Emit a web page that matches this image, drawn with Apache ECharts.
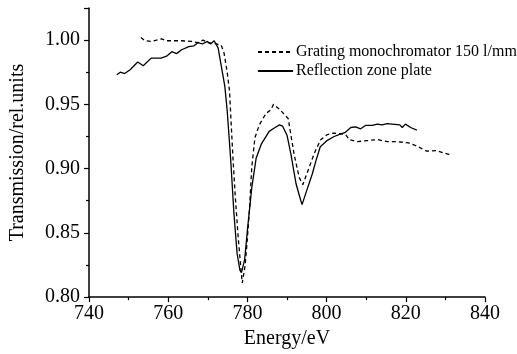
<!DOCTYPE html>
<html>
<head>
<meta charset="utf-8">
<script src="https://cdn.jsdelivr.net/npm/echarts@6/dist/echarts.min.js"></script>
<style>
  html, body { margin: 0; padding: 0; background: #fff; }
  #chart { width: 517px; height: 354px; }
</style>
</head>
<body>
<div id="chart"></div>
<script>
// 能量 (eV) 和透射率
var rzpEnergy = [747.0, 747.9, 749.0, 750.4, 752.3, 753.7, 755.7, 758.2, 759.6, 760.9, 762.1, 763.4, 765.2, 766.5, 767.5, 768.6, 769.9, 770.7, 771.6, 772.6, 773.4, 774.3, 774.9, 775.8, 776.6, 777.4, 778.1, 778.5, 779.3, 780.1, 781.1, 782.2, 783.5, 785.5, 787.0, 788.1, 788.9, 790.0, 791.0, 792.3, 793.5, 793.8, 795.2, 796.4, 797.3, 798.4, 800.2, 801.9, 803.6, 804.6, 806.1, 807.3, 808.6, 809.8, 811.5, 812.8, 814.0, 815.3, 816.6, 817.1, 818.5, 819.1, 819.9, 821.2, 822.8];
var rzpValue = [0.973, 0.975, 0.974, 0.977, 0.983, 0.980, 0.986, 0.986, 0.9875, 0.991, 0.9895, 0.9925, 0.995, 0.9956, 0.998, 0.997, 0.999, 0.997, 0.9995, 0.994, 0.980, 0.964, 0.945, 0.906, 0.865, 0.834, 0.821, 0.819, 0.829, 0.855, 0.885, 0.908, 0.919, 0.929, 0.932, 0.934, 0.933, 0.926, 0.911, 0.888, 0.875, 0.872, 0.885, 0.896, 0.906, 0.917, 0.922, 0.925, 0.927, 0.928, 0.932, 0.9325, 0.931, 0.9336, 0.9336, 0.9346, 0.934, 0.935, 0.9346, 0.936, 0.934, 0.932, 0.9346, 0.932, 0.930];

var gratingEnergy = [753.1, 754.1, 755.8, 758.3, 759.6, 761.3, 763.3, 765.9, 767.5, 768.8, 770.1, 772.2, 773.4, 774.1, 774.9, 775.5, 775.9, 776.4, 776.9, 777.6, 778.3, 778.7, 779.4, 779.9, 780.5, 781.1, 781.9, 783.0, 784.7, 785.9, 786.6, 787.8, 789.1, 790.3, 791.0, 791.8, 793.1, 794.0, 795.6, 796.9, 798.5, 800.2, 801.9, 803.6, 804.8, 805.7, 807.8, 810.3, 812.8, 815.3, 817.8, 820.7, 822.8, 825.3, 827.8, 830.8, 831.6];
var gratingValue = [1.002, 0.9995, 0.999, 1.001, 0.9995, 0.9995, 0.9995, 0.999, 0.998, 1.000, 0.998, 0.997, 0.996, 0.990, 0.975, 0.960, 0.935, 0.906, 0.880, 0.8495, 0.824, 0.811, 0.824, 0.842, 0.867, 0.901, 0.924, 0.934, 0.943, 0.9456, 0.950, 0.947, 0.943, 0.939, 0.926, 0.911, 0.893, 0.8875, 0.901, 0.912, 0.9225, 0.9265, 0.9277, 0.927, 0.9265, 0.9226, 0.921, 0.9218, 0.9226, 0.921, 0.921, 0.920, 0.9175, 0.9136, 0.914, 0.911, 0.9115];

var seriesNames = ['Grating monochromator 150 l/mm', 'Reflection zone plate'];

function pairs (xs, ys) {
  return xs.map(function (x, i) { return [x, ys[i]]; });
}

var font = '"Liberation Serif", "DejaVu Serif", serif';
var chart = echarts.init(document.getElementById('chart'));
chart.setOption({
  animation: false,
  textStyle: { fontFamily: font, color: '#000' },
  grid: { left: 87, right: 32, top: 8, bottom: 54, containLabel: false },
  legend: {
    orient: 'vertical',
    left: 257,
    top: 44,
    padding: 0,
    itemWidth: 35,
    itemHeight: 10,
    itemGap: 3,
    itemStyle: { opacity: 0 },   // 去掉图例中的圆点
    textStyle: { fontFamily: font, fontSize: 16, color: '#000', lineHeight: 16, padding: [0, 0, 0, -2] },
    data: seriesNames
  },
  xAxis: {
    type: 'value',
    min: 740,
    max: 840,
    interval: 20,
    name: 'Energy/eV',
    nameLocation: 'middle',
    nameGap: 29,
    nameTextStyle: { fontFamily: font, fontSize: 20, color: '#000' },
    axisLine: { lineStyle: { color: '#000', width: 1.5 } },
    axisTick: { length: 5, lineStyle: { color: '#000', width: 1.2 } },
    minorTick: { show: true, splitNumber: 2, length: 3, lineStyle: { color: '#000', width: 1.2 } },
    axisLabel: { fontFamily: font, fontSize: 20, color: '#000', margin: 7 },
    splitLine: { show: false }
  },
  yAxis: {
    type: 'value',
    min: 0.80,
    max: 1.025,
    interval: 0.05,
    name: 'Transmission/rel.units',
    nameLocation: 'middle',
    nameGap: 61,
    nameTextStyle: { fontFamily: font, fontSize: 20, color: '#000' },
    axisLine: { show: true, lineStyle: { color: '#000', width: 1.5 } },
    axisTick: { length: 5, lineStyle: { color: '#000', width: 1.2 } },
    minorTick: { show: true, splitNumber: 2, length: 3, lineStyle: { color: '#000', width: 1.2 } },
    axisLabel: {
      fontFamily: font, fontSize: 20, color: '#000', margin: 9,
      showMaxLabel: false,
      formatter: function (v) { return v > 1.001 ? '' : v.toFixed(2); }
    },
    splitLine: { show: false }
  },
  series: [
    {
      name: seriesNames[0],
      type: 'line',
      symbol: 'none',
      data: pairs(gratingEnergy, gratingValue),
      lineStyle: { color: '#000', width: 1.3, type: [4, 3] },
      itemStyle: { color: '#000' }
    },
    {
      name: seriesNames[1],
      type: 'line',
      symbol: 'none',
      data: pairs(rzpEnergy, rzpValue),
      lineStyle: { color: '#000', width: 1.3 },
      itemStyle: { color: '#000' }
    }
  ]
});
</script>
</body>
</html>
